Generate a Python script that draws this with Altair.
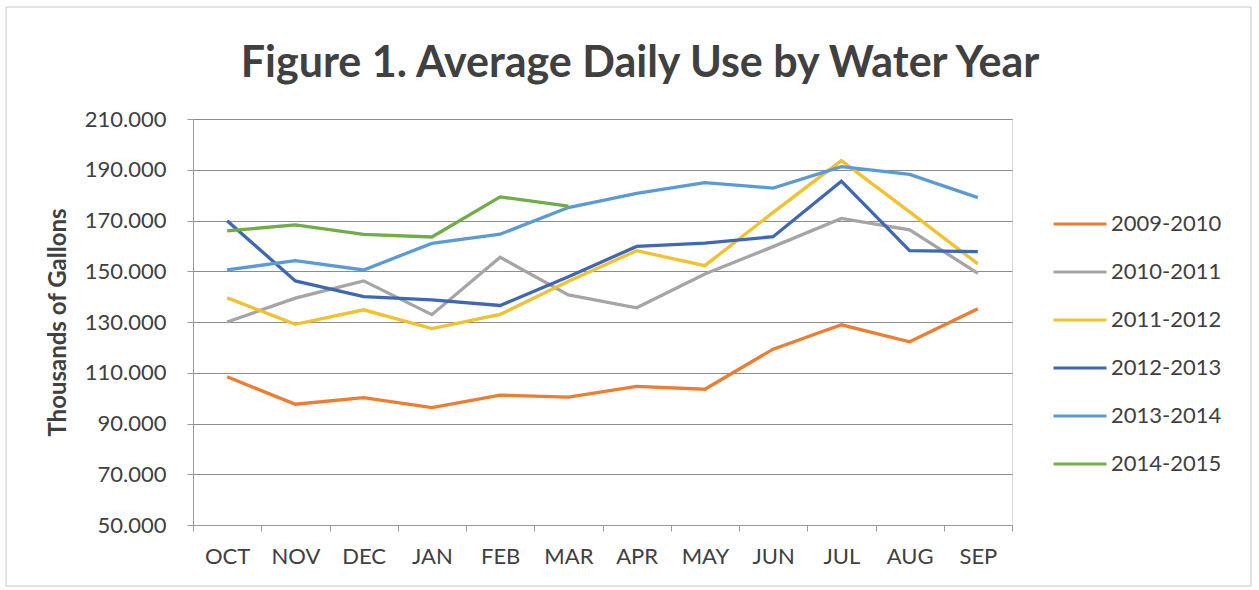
import altair as alt
import pandas as pd

# Months of the water year
months = ["OCT", "NOV", "DEC", "JAN", "FEB", "MAR", "APR", "MAY", "JUN", "JUL", "AUG", "SEP"]

# Average daily use (thousands of gallons) per water year
wy_2009_2010 = [108.4, 97.6, 100.2, 96.3, 101.2, 100.4, 104.6, 103.5, 119.3, 128.9, 122.2, 135.2]
wy_2010_2011 = [130.0, 139.4, 146.2, 132.9, 155.5, 140.7, 135.6, 148.9, 159.7, 170.8, 166.3, 149.2]
wy_2011_2012 = [139.5, 129.1, 134.8, 127.4, 133.0, 146.1, 158.1, 152.2, 173.2, 193.6, 173.4, 152.9]
wy_2012_2013 = [169.9, 146.2, 140.0, 138.7, 136.5, 147.8, 159.8, 161.1, 163.6, 185.5, 158.1, 157.7]
wy_2013_2014 = [150.5, 154.2, 150.5, 161.0, 164.6, 175.1, 180.7, 184.9, 182.8, 191.2, 188.2, 179.0]
wy_2014_2015 = [165.9, 168.3, 164.5, 163.5, 179.3, 175.7]

series = {
    "2009-2010": wy_2009_2010,
    "2010-2011": wy_2010_2011,
    "2011-2012": wy_2011_2012,
    "2012-2013": wy_2012_2013,
    "2013-2014": wy_2013_2014,
    "2014-2015": wy_2014_2015,
}
colors = ["#ED7D31", "#A5A5A5", "#F2C12E", "#4068B2", "#5B9BD5", "#70AD47"]

title_text = "Figure 1. Average Daily Use by Water Year"

rows = []
for name, values in series.items():
    for m, v in zip(months, values):
        rows.append({"month": m, "year": name, "use": v})
df = pd.DataFrame(rows)

FONT = "Lato"
TEXT = "#404040"

lines = alt.Chart(df).mark_line(strokeWidth=3.3, clip=False).encode(
    x=alt.X(
        "month:N",
        sort=months,
        bandPosition=0.5,
        scale=alt.Scale(type="band", paddingInner=0, paddingOuter=0),
        axis=alt.Axis(
            title=None,
            labelAngle=0,
            labelFont=FONT,
            labelFontSize=22,
            labelColor=TEXT,
            labelPadding=15,
            tickBand="extent",
            tickSize=6,
            tickColor="#9a9a9a",
            domainColor="#9a9a9a",
            grid=False,
        ),
    ),
    y=alt.Y(
        "use:Q",
        scale=alt.Scale(domain=[50, 210], nice=False, zero=False),
        axis=alt.Axis(
            title="Thousands of Gallons",
            values=[50, 70, 90, 110, 130, 150, 170, 190, 210],
            format=".3f",
            labelFont=FONT,
            labelFontSize=22,
            labelColor=TEXT,
            labelPadding=21,
            tickSize=6,
            tickColor="#9a9a9a",
            domainColor="#9a9a9a",
            gridColor="#8c8c8c",
            gridWidth=1,
            titleFont=FONT,
            titleFontSize=24,
            titleFontWeight="bold",
            titleColor=TEXT,
            titlePadding=14,
        ),
    ),
    color=alt.Color(
        "year:N",
        scale=alt.Scale(domain=list(series.keys()), range=colors),
        legend=alt.Legend(
            title=None,
            orient="none",
            legendX=859,
            legendY=77,
            symbolType="stroke",
            symbolSize=2809,
            symbolStrokeWidth=3,
            labelFont=FONT,
            labelFontSize=22,
            labelColor=TEXT,
            labelOffset=3,
            rowPadding=9,
        ),
    ),
)

# Thin frame around the whole figure
frame = alt.Chart(pd.DataFrame({"k": [0]})).mark_rect(
    fillOpacity=0, stroke="#c8c8c8", strokeWidth=1, clip=False
).encode(
    x=alt.value(-187), x2=alt.value(1058),
    y=alt.value(-112), y2=alt.value(467),
)

# Figure title
title = alt.Chart(pd.DataFrame({"t": [title_text]})).mark_text(
    font=FONT, fontSize=43, fontWeight="bold", color=TEXT,
    align="center", baseline="alphabetic", clip=False,
).encode(
    text="t:N",
    x=alt.value(447),
    y=alt.value(-42),
)

chart = alt.layer(frame, lines, title).properties(
    width=819,
    height=406,
    autosize=alt.AutoSizeParams(type="none"),
    padding={"left": 193, "top": 119, "right": 247, "bottom": 65},
).configure_view(stroke=None).configure(background="white")

chart.save("out.html", embed_options={"renderer": "svg", "actions": False})
